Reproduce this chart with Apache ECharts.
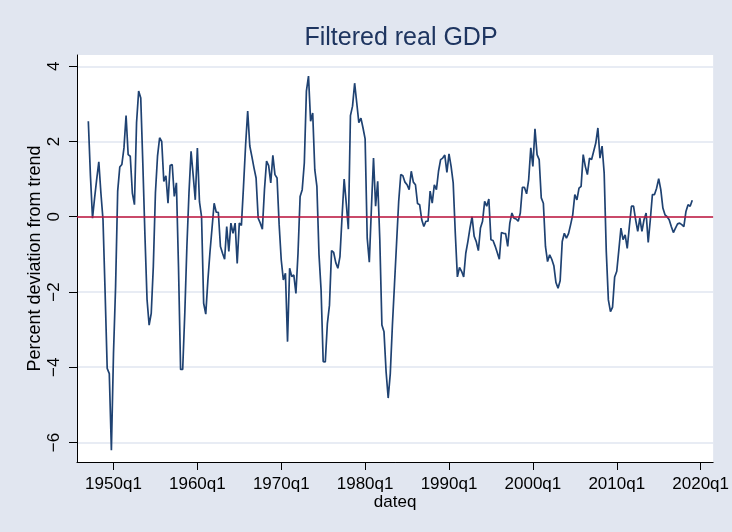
<!DOCTYPE html>
<html><head><meta charset="utf-8">
<script src="https://cdn.jsdelivr.net/npm/echarts@6/dist/echarts.min.js"></script>
<style>html,body{margin:0;padding:0;background:#e1e6f0;} #c{width:732px;height:532px;}</style>
</head><body><div id="c"></div>
<script>
// first observation: 1947q1, quarterly
const startYear = 1947;
const gdp1940s = [2.54, 1.1, -0.04, 0.5, 1.0, 1.46, 0.63, -0.08, -2.0, -4.03, -4.17, -6.21];
const gdp1950s = [-3.64, -1.86, 0.68, 1.32, 1.39, 1.83, 2.69, 1.65, 1.61, 0.63, 0.32, 2.5, 3.34, 3.16, 1.4, -0.5, -2.2, -2.88, -2.57, -1.32, 0.63, 1.61, 2.1, 2.0, 0.94, 1.09, 0.36, 1.36, 1.39, 0.54, 0.9, -1.32, -4.06, -4.06, -2.57, -0.8, 0.63, 1.74, 1.1, 0.45];
const gdp1960s = [1.83, 0.4, 0.0, -2.3, -2.59, -1.7, -0.95, -0.3, 0.36, 0.12, 0.12, -0.79, -0.97, -1.13, -0.26, -0.92, -0.17, -0.44, -0.17, -1.24, -0.17, -0.23, 0.8, 1.9, 2.81, 1.88, 1.6, 1.3, 1.03, -0.04, -0.17, -0.33, 0.72, 1.48, 1.36, 0.9, 1.63, 1.12, 1.03, -0.21];
const gdp1970s = [-1.15, -1.68, -1.5, -3.32, -1.37, -1.59, -1.55, -2.04, -0.97, 0.54, 0.72, 1.43, 3.34, 3.74, 2.54, 2.76, 1.25, 0.81, -1.0, -1.95, -3.85, -3.86, -2.84, -2.35, -0.9, -0.95, -1.22, -1.37, -1.06, 0.0, 1.0, 0.36, -0.33, 2.69, 2.94, 3.55, 3.03, 2.5, 2.62, 2.36];
const gdp1980s = [2.07, -0.57, -1.21, 0.23, 1.56, 0.28, 0.94, -0.61, -2.88, -3.06, -4.12, -4.82, -4.17, -2.9, -1.8, -0.7, 0.4, 1.12, 1.09, 0.92, 0.85, 0.72, 1.21, 0.92, 0.85, 0.35, 0.32, -0.08, -0.26, -0.12, -0.12, 0.68, 0.36, 0.85, 0.72, 1.21, 1.52, 1.56, 1.64, 1.18];
const gdp1990s = [1.67, 1.34, 0.9, -0.44, -1.6, -1.35, -1.45, -1.6, -0.97, -0.66, -0.3, 0.0, -0.52, -0.66, -0.9, -0.3, -0.12, 0.41, 0.28, 0.47, -0.61, -0.63, -0.78, -0.95, -1.13, -0.42, -0.44, -0.45, -0.79, -0.17, 0.1, -0.04, -0.06, -0.12, 0.1, 0.78, 0.78, 0.61, 0.99, 1.83];
const gdp2000s = [1.34, 2.34, 1.65, 1.52, 0.5, 0.36, -0.79, -1.19, -1.01, -1.13, -1.3, -1.75, -1.9, -1.7, -0.66, -0.44, -0.57, -0.45, -0.21, 0.05, 0.59, 0.45, 0.76, 0.81, 1.65, 1.34, 1.12, 1.56, 1.52, 1.74, 1.96, 2.36, 1.56, 1.88, 1.16, -0.92, -2.21, -2.52, -2.4, -1.6];
const gdp2010s = [-1.45, -0.88, -0.3, -0.61, -0.48, -0.84, -0.26, 0.28, 0.28, -0.08, -0.39, -0.04, -0.39, -0.08, 0.1, -0.68, -0.08, 0.59, 0.59, 0.76, 1.01, 0.72, 0.23, 0.05, 0.0, -0.08, -0.26, -0.42, -0.3, -0.19, -0.17, -0.21, -0.26, 0.14, 0.32, 0.28, 0.44];

const xTickYears = [1950, 1960, 1970, 1980, 1990, 2000, 2010, 2020];
const xTickLabels = ['1950q1', '1960q1', '1970q1', '1980q1', '1990q1', '2000q1', '2010q1', '2020q1'];
const yTicks = [-6, -4, -2, 0, 2, 4];
const yTickLabels = ['\u22126', '\u22124', '\u22122', '0', '2', '4'];

const values = [].concat(gdp1940s, gdp1950s, gdp1960s, gdp1970s, gdp1980s, gdp1990s, gdp2000s, gdp2010s);
const seriesData = values.map((v, i) => [startYear + i / 4, v]);

const FONT = 'Liberation Sans, Arial, sans-serif';
const chart = echarts.init(document.getElementById('c'), null, {renderer: 'canvas'});
chart.setOption({
  animation: false,
  backgroundColor: '#e1e6f0',
  title: {
    text: 'Filtered real GDP',
    left: 396, top: 21, textAlign: 'center',
    textStyle: {fontFamily: FONT, fontSize: 25, fontWeight: 'normal', color: '#1e3560'}
  },
  grid: {left: 77, right: 17, top: 55, bottom: 70, show: true, backgroundColor: '#ffffff', borderWidth: 0},
  xAxis: {
    type: 'value', min: 1945.65, max: 2021.49,
    axisLine: {show: true, onZero: false, lineStyle: {color: '#000', width: 1}},
    axisTick: {show: true, customValues: xTickYears, length: 8, lineStyle: {color: '#000'}},
    axisLabel: {customValues: xTickYears, formatter: v => xTickLabels[xTickYears.indexOf(Math.round(v))],
      fontFamily: FONT, fontSize: 17, color: '#000', margin: 14},
    splitLine: {show: false},
    name: 'dateq', nameLocation: 'middle', nameGap: 32, nameMoveOverlap: false,
    nameTextStyle: {fontFamily: FONT, fontSize: 17, color: '#000'}
  },
  yAxis: {
    type: 'value', min: -6.52, max: 4.30,
    axisLine: {show: true, onZero: false, lineStyle: {color: '#000', width: 1}},
    axisTick: {show: true, customValues: yTicks, length: 8, lineStyle: {color: '#000'}},
    axisLabel: {customValues: yTicks, rotate: 90, formatter: v => yTickLabels[yTicks.indexOf(Math.round(v))],
      fontFamily: FONT, fontSize: 17, color: '#000', margin: 14},
    splitLine: {show: true, lineStyle: {color: '#e1e6f0', width: 1.5}},
    name: 'Percent deviation from trend', nameLocation: 'middle', nameGap: 33, nameRotate: 90, nameMoveOverlap: false,
    nameTextStyle: {fontFamily: FONT, fontSize: 18, color: '#000'}
  },
  series: [{
    type: 'line', data: seriesData, showSymbol: false, symbol: 'none',
    lineStyle: {color: '#1f4272', width: 1.7},
    markLine: {silent: true, symbol: 'none', label: {show: false},
      lineStyle: {color: '#c0143c', width: 1.5, type: 'solid'},
      data: [{yAxis: 0}]}
  }]
});
</script></body></html>
